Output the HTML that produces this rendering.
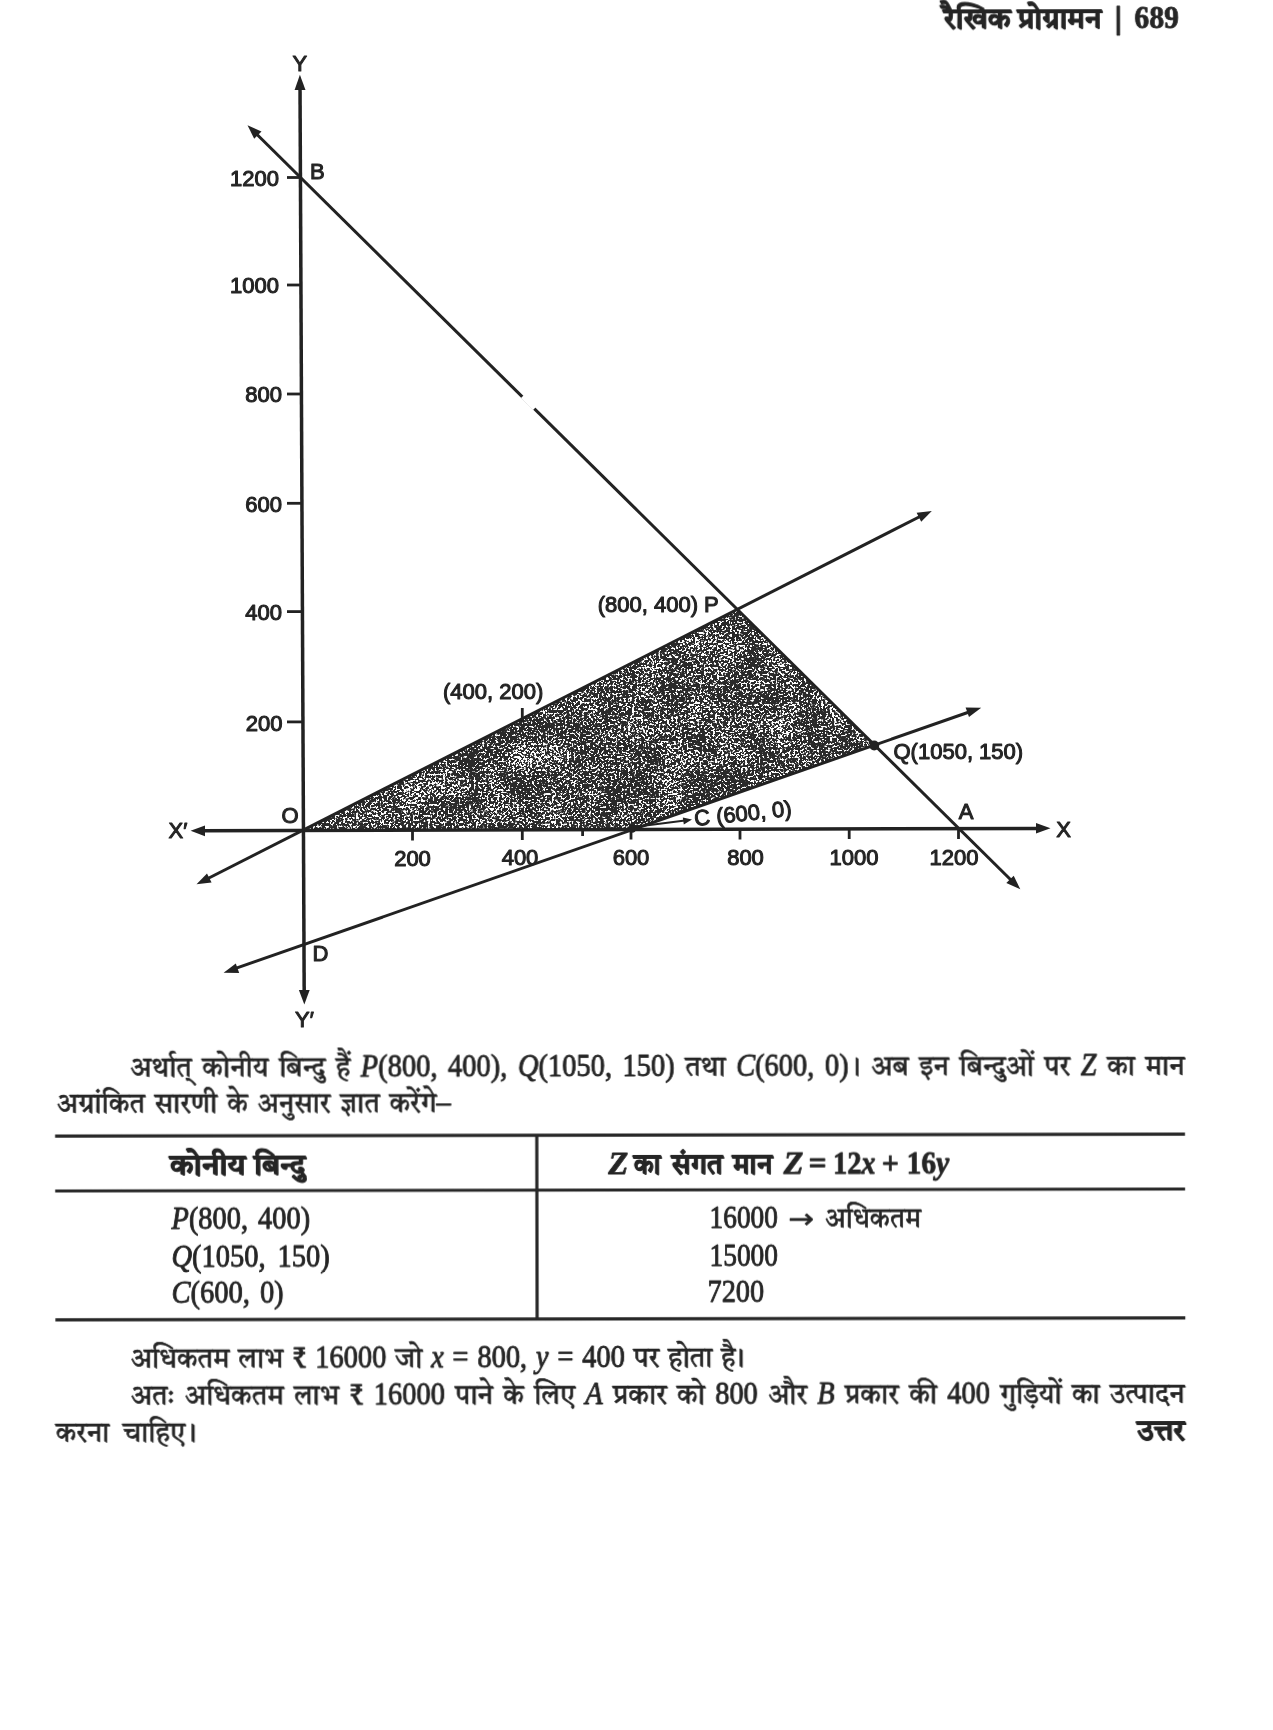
<!DOCTYPE html>
<html lang="hi">
<head>
<meta charset="utf-8">
<title>रैखिक प्रोग्रामन 689</title>
<style>
html,body{margin:0;padding:0;background:#fff;}
body{width:1273px;height:1730px;position:relative;overflow:hidden;color:#1e1e1e;
  font-family:"Liberation Serif","Tiro Devanagari Hindi","Noto Serif Devanagari","Lohit Devanagari","FreeSerif",serif;}
#graph,#txt,#rules{will-change:transform;opacity:0.999;}
#graph{position:absolute;left:0;top:0;width:1273px;height:1730px;}
#graph text{font-family:"Liberation Sans","DejaVu Sans",sans-serif;font-size:22px;fill:#242424;stroke:#242424;stroke-width:1.05px;stroke-linejoin:round;}
#txt{position:absolute;left:0;top:0;width:1273px;height:1730px;transform:rotate(-0.1deg);transform-origin:620px 1250px;}
#txt text{font-family:"Liberation Serif","Tiro Devanagari Hindi","Noto Serif Devanagari","Lohit Devanagari","FreeSerif",serif;fill:#242424;stroke:#242424;stroke-width:0.7px;stroke-linejoin:round;}
#txt text.L{stroke-width:0.9px;}
#txt text.DB{stroke-width:0.9px;}
#txt text.LB{stroke-width:0.8px;}
#txt text.A{stroke-width:0.5px;font-family:"DejaVu Sans","Liberation Sans",sans-serif;}
#rules{position:absolute;left:0;top:0;width:1273px;height:1730px;transform:rotate(-0.1deg);transform-origin:620px 1250px;}
</style>
</head>
<body>

<!-- ================= GRAPH ================= -->
<svg id="graph" viewBox="0 0 1273 1730">
  <defs>
    <filter id="stip" x="0" y="0" width="100%" height="100%" filterUnits="objectBoundingBox" color-interpolation-filters="sRGB">
      <feTurbulence type="fractalNoise" baseFrequency="0.46" numOctaves="2" seed="11"/>
      <feColorMatrix type="matrix" values="1 0 0 0 0  0 1 0 0 0  0 0 1 0 0  0 0 0 0 1" result="hi"/>
      <feTurbulence type="fractalNoise" baseFrequency="0.035" numOctaves="2" seed="4"/>
      <feColorMatrix type="matrix" values="1 0 0 0 0  0 1 0 0 0  0 0 1 0 0  0 0 0 0 1" result="lo"/>
      <feComposite in="hi" in2="lo" operator="arithmetic" k1="0" k2="1" k3="0.24" k4="-0.12" result="mix"/>
      <feColorMatrix in="mix" type="matrix" values="0 0 0 0 1  0 0 0 0 1  0 0 0 0 1  14 0 0 0 -7.58" result="spk"/>
      <feMerge result="m"><feMergeNode in="SourceGraphic"/><feMergeNode in="spk"/></feMerge>
      <feComposite in="m" in2="SourceGraphic" operator="in"/>
    </filter>
  </defs>

  <!-- shaded feasible region O-P-Q-C -->
  <polygon id="region" points="303,830 738,610 874,745.5 632,829" fill="#2a2a2a" filter="url(#stip)"/>

  <g stroke="#222" stroke-linecap="butt" fill="none">
    <!-- axes -->
    <line x1="300" y1="84" x2="304.2" y2="994" stroke-width="3.5"/>
    <line x1="200" y1="830.8" x2="1040" y2="828.4" stroke-width="3.5"/>
    <!-- line AB : x + y = 1200 -->
    <line x1="254" y1="131.5" x2="1013.5" y2="882.5" stroke-width="3"/>
    <!-- line x = 2y -->
    <line x1="204" y1="880.5" x2="922" y2="515.5" stroke-width="3"/>
    <!-- line x - 3y = 600 -->
    <line x1="232" y1="969.7" x2="972" y2="711" stroke-width="3"/>
    <!-- short pointer to C -->
    <line x1="634" y1="827" x2="685" y2="820.5" stroke-width="2"/>
    <!-- ticks y -->
    <g stroke-width="2.8">
      <line x1="287" y1="177.5" x2="301" y2="177.5"/>
      <line x1="287" y1="285" x2="301" y2="285"/>
      <line x1="287" y1="394" x2="302" y2="394"/>
      <line x1="287" y1="503.3" x2="302" y2="503.3"/>
      <line x1="287" y1="611.6" x2="303" y2="611.6"/>
      <line x1="287" y1="721.9" x2="303" y2="721.9"/>
      <!-- ticks x -->
      <line x1="412.5" y1="830" x2="412.5" y2="840.5"/>
      <line x1="522.3" y1="829.5" x2="522.3" y2="840"/>
      <line x1="582.6" y1="829.5" x2="582.6" y2="836"/>
      <line x1="631" y1="829" x2="631" y2="839.5"/>
      <line x1="740" y1="829" x2="740" y2="839.5"/>
      <line x1="849.2" y1="829" x2="849.2" y2="839"/>
      <line x1="958.5" y1="828.5" x2="958.5" y2="839"/>
      <!-- tick at (400,200) -->
      <line x1="522.3" y1="708" x2="522.3" y2="722"/>
    </g>
  </g>
  <!-- gap (scan artefact) in line AB -->
  <polygon points="521,398 528,391 540,403 533,410" fill="#fff"/>

  <!-- arrow heads -->
  <g fill="#222" stroke="none">
    <polygon points="299.9,74.8 305.5,90 294.6,90"/>
    <polygon points="304.3,1004.5 298.9,990 309.7,990"/>
    <polygon points="190.6,830.8 205,825.6 205,836.2"/>
    <polygon points="1050.5,828.3 1036,833.6 1036,823.1"/>
    <!-- AB -->
    <polygon points="247.5,125.2 261.5,131.5 254.2,138.8"/>
    <polygon points="1020.3,889.2 1006.3,883 1013.7,875.7"/>
    <!-- x=2y -->
    <polygon points="931.8,510.9 921.2,521.8 916.6,512.7"/>
    <polygon points="196.5,884.3 207,873.4 211.6,882.5"/>
    <!-- x-3y=600 -->
    <polygon points="981.2,707.8 969,717 965.6,707.4"/>
    <polygon points="223.6,972.7 235.8,963.5 239.2,973.1"/>
    <!-- pointer -->
    <polygon points="692,819.6 683.8,824.6 682.8,817.4"/>
    <circle cx="874.2" cy="745.5" r="5"/>
    <circle cx="632" cy="828.8" r="4"/>
  </g>

  <!-- labels -->
  <g>
    <text x="299.9" y="70.5" text-anchor="middle">Y</text>
    <text x="304.5" y="1026.5" text-anchor="middle">Y′</text>
    <text x="178" y="838" text-anchor="middle">X′</text>
    <text x="1063.7" y="836.5" text-anchor="middle">X</text>
    <text x="290" y="823" text-anchor="middle">O</text>
    <text x="317.3" y="178.5" text-anchor="middle">B</text>
    <text x="320.5" y="961" text-anchor="middle">D</text>
    <text x="966" y="819" text-anchor="middle">A</text>
    <!-- y ticks -->
    <text x="279" y="185.5" text-anchor="end">1200</text>
    <text x="279" y="293" text-anchor="end">1000</text>
    <text x="282" y="402" text-anchor="end">800</text>
    <text x="282" y="512" text-anchor="end">600</text>
    <text x="282" y="619.5" text-anchor="end">400</text>
    <text x="282.5" y="730.5" text-anchor="end">200</text>
    <!-- x ticks -->
    <text x="412.5" y="866" text-anchor="middle">200</text>
    <text x="520" y="865" text-anchor="middle">400</text>
    <text x="631" y="865" text-anchor="middle">600</text>
    <text x="745.5" y="865" text-anchor="middle">800</text>
    <text x="854" y="865" text-anchor="middle">1000</text>
    <text x="954" y="865" text-anchor="middle">1200</text>
    <!-- point labels -->
    <text x="597.7" y="612">(800, 400) P</text>
    <text x="443" y="699">(400, 200)</text>
    <text x="893.5" y="758.5">Q(1050, 150)</text>
    <text x="695" y="826" transform="rotate(-6 695 826)">C (600, 0)</text>
  </g>
</svg>

<!-- ================= TABLE RULES ================= -->
<svg id="rules" viewBox="0 0 1273 1730">
  <g stroke="#262626" fill="none">
    <line x1="55.3" y1="1135.1" x2="1185.2" y2="1135.1" stroke-width="3.2"/>
    <line x1="55.3" y1="1189.9" x2="1185.2" y2="1189.9" stroke-width="3"/>
    <line x1="55.3" y1="1318.9" x2="1185.2" y2="1318.9" stroke-width="3.2"/>
    <line x1="537" y1="1135" x2="537" y2="1319" stroke-width="3.2"/>
  </g>
</svg>

<!-- ================= TEXT ================= -->
<!--TEXT-->
<svg id="txt" viewBox="0 0 1273 1730">
<g id="hdr">
<text class="DB" x="946.0" y="28.8" font-size="29.4" font-weight="bold" textLength="66.8" lengthAdjust="spacingAndGlyphs">रैखिक</text>
<text class="DB" x="1020.1" y="28.8" font-size="29.4" font-weight="bold" textLength="83.4" lengthAdjust="spacingAndGlyphs">प्रोग्रामन</text>
<text class="LB" x="1116.3" y="28.8" font-size="32.0" font-weight="bold" textLength="8.4" lengthAdjust="spacingAndGlyphs">|</text>
<text class="LB" x="1136.6" y="28.8" font-size="32.0" font-weight="bold" textLength="44.4" lengthAdjust="spacingAndGlyphs">689</text>
</g>
<g id="p1a">
<text class="D" x="130.5" y="1075.8" font-size="29.4" textLength="61.6" lengthAdjust="spacingAndGlyphs">अर्थात्</text>
<text class="D" x="202.6" y="1075.8" font-size="29.4" textLength="66.2" lengthAdjust="spacingAndGlyphs">कोनीय</text>
<text class="D" x="279.4" y="1075.8" font-size="29.4" textLength="46.3" lengthAdjust="spacingAndGlyphs">बिन्दु</text>
<text class="D" x="336.2" y="1075.8" font-size="29.4" textLength="14.4" lengthAdjust="spacingAndGlyphs">हैं</text>
<text class="L" x="361.1" y="1075.8" font-size="32.0" textLength="76.7" lengthAdjust="spacingAndGlyphs"><tspan font-style="italic">P</tspan>(800,</text>
<text class="L" x="448.3" y="1075.8" font-size="32.0" textLength="59.3" lengthAdjust="spacingAndGlyphs">400),</text>
<text class="L" x="518.2" y="1075.8" font-size="32.0" textLength="94.1" lengthAdjust="spacingAndGlyphs"><tspan font-style="italic">Q</tspan>(1050,</text>
<text class="L" x="622.8" y="1075.8" font-size="32.0" textLength="52.2" lengthAdjust="spacingAndGlyphs">150)</text>
<text class="D" x="685.6" y="1075.8" font-size="29.4" textLength="40.4" lengthAdjust="spacingAndGlyphs">तथा</text>
<text class="L" x="736.4" y="1075.8" font-size="32.0" textLength="78.3" lengthAdjust="spacingAndGlyphs"><tspan font-style="italic">C</tspan>(600,</text>
<text class="L" x="825.3" y="1075.8" font-size="32.0" textLength="23.7" lengthAdjust="spacingAndGlyphs">0)</text>
<text class="D" x="854.0" y="1075.8" font-size="29.4" textLength="6.9" lengthAdjust="spacingAndGlyphs">।</text>
<text class="D" x="871.5" y="1075.8" font-size="29.4" textLength="37.6" lengthAdjust="spacingAndGlyphs">अब</text>
<text class="D" x="919.6" y="1075.8" font-size="29.4" textLength="29.7" lengthAdjust="spacingAndGlyphs">इन</text>
<text class="D" x="959.8" y="1075.8" font-size="29.4" textLength="74.5" lengthAdjust="spacingAndGlyphs">बिन्दुओं</text>
<text class="D" x="1044.8" y="1075.8" font-size="29.4" textLength="25.7" lengthAdjust="spacingAndGlyphs">पर</text>
<text class="L" x="1081.1" y="1075.8" font-size="32.0" textLength="15.8" lengthAdjust="spacingAndGlyphs"><tspan font-style="italic">Z</tspan></text>
<text class="D" x="1107.4" y="1075.8" font-size="29.4" textLength="27.9" lengthAdjust="spacingAndGlyphs">का</text>
<text class="D" x="1145.8" y="1075.8" font-size="29.4" textLength="39.2" lengthAdjust="spacingAndGlyphs">मान</text>
</g>
<g id="p1b">
<text class="D" x="57.0" y="1112.4" font-size="29.4" textLength="88.2" lengthAdjust="spacingAndGlyphs">अग्रांकित</text>
<text class="D" x="154.9" y="1112.4" font-size="29.4" textLength="62.7" lengthAdjust="spacingAndGlyphs">सारणी</text>
<text class="D" x="227.4" y="1112.4" font-size="29.4" textLength="20.6" lengthAdjust="spacingAndGlyphs">के</text>
<text class="D" x="257.8" y="1112.4" font-size="29.4" textLength="72.9" lengthAdjust="spacingAndGlyphs">अनुसार</text>
<text class="D" x="340.5" y="1112.4" font-size="29.4" textLength="39.4" lengthAdjust="spacingAndGlyphs">ज्ञात</text>
<text class="D" x="389.7" y="1112.4" font-size="29.4" textLength="47.0" lengthAdjust="spacingAndGlyphs">करेंगे</text>
<text class="L" x="436.8" y="1112.4" font-size="32.0" textLength="14.2" lengthAdjust="spacingAndGlyphs">–</text>
</g>
<g id="th1">
<text class="DB" x="170.3" y="1174.3" font-size="29.4" font-weight="bold" textLength="75.3" lengthAdjust="spacingAndGlyphs">कोनीय</text>
<text class="DB" x="254.3" y="1174.3" font-size="29.4" font-weight="bold" textLength="51.2" lengthAdjust="spacingAndGlyphs">बिन्दु</text>
</g>
<g id="th2">
<text class="LB" x="608.5" y="1174.3" font-size="32.0" font-weight="bold" textLength="19.8" lengthAdjust="spacingAndGlyphs"><tspan font-style="italic">Z</tspan></text>
<text class="DB" x="633.9" y="1174.3" font-size="29.4" font-weight="bold" textLength="26.9" lengthAdjust="spacingAndGlyphs">का</text>
<text class="DB" x="672.1" y="1174.3" font-size="29.4" font-weight="bold" textLength="50.9" lengthAdjust="spacingAndGlyphs">संगत</text>
<text class="DB" x="732.9" y="1174.3" font-size="29.4" font-weight="bold" textLength="39.6" lengthAdjust="spacingAndGlyphs">मान</text>
<text class="LB" x="783.8" y="1174.3" font-size="32.0" font-weight="bold" textLength="19.8" lengthAdjust="spacingAndGlyphs"><tspan font-style="italic">Z</tspan></text>
<text class="LB" x="808.8" y="1174.3" font-size="32.0" font-weight="bold" textLength="18.0" lengthAdjust="spacingAndGlyphs">=</text>
<text class="LB" x="833.3" y="1174.3" font-size="32.0" font-weight="bold" textLength="42.4" lengthAdjust="spacingAndGlyphs">12<tspan font-style="italic">x</tspan></text>
<text class="LB" x="882.0" y="1174.3" font-size="32.0" font-weight="bold" textLength="17.0" lengthAdjust="spacingAndGlyphs">+</text>
<text class="LB" x="906.8" y="1174.3" font-size="32.0" font-weight="bold" textLength="42.5" lengthAdjust="spacingAndGlyphs">16<tspan font-style="italic">y</tspan></text>
</g>
<g id="r1a">
<text class="L" x="171.5" y="1228.3" font-size="32.0" textLength="76.7" lengthAdjust="spacingAndGlyphs"><tspan font-style="italic">P</tspan>(800,</text>
<text class="L" x="258.1" y="1228.3" font-size="32.0" textLength="52.2" lengthAdjust="spacingAndGlyphs">400)</text>
</g>
<g id="r2a">
<text class="L" x="171.5" y="1266.0" font-size="32.0" textLength="94.1" lengthAdjust="spacingAndGlyphs"><tspan font-style="italic">Q</tspan>(1050,</text>
<text class="L" x="277.6" y="1266.0" font-size="32.0" textLength="52.2" lengthAdjust="spacingAndGlyphs">150)</text>
</g>
<g id="r3a">
<text class="L" x="171.5" y="1302.0" font-size="32.0" textLength="78.3" lengthAdjust="spacingAndGlyphs"><tspan font-style="italic">C</tspan>(600,</text>
<text class="L" x="259.9" y="1302.0" font-size="32.0" textLength="23.7" lengthAdjust="spacingAndGlyphs">0)</text>
</g>
<g id="r1b">
<text class="L" x="709.5" y="1228.3" font-size="32.0" textLength="68.5" lengthAdjust="spacingAndGlyphs">16000</text>
<text class="A" x="788.5" y="1228.3" font-size="27" font-family="DejaVu Sans,Liberation Sans,sans-serif" textLength="26.0" lengthAdjust="spacingAndGlyphs">→</text>
<text class="D" x="825.0" y="1228.3" font-size="29.4" textLength="96.0" lengthAdjust="spacingAndGlyphs">अधिकतम</text>
</g>
<g id="r2b">
<text class="L" x="709.5" y="1266.0" font-size="32.0" textLength="68.5" lengthAdjust="spacingAndGlyphs">15000</text>
</g>
<g id="r3b">
<text class="L" x="707.5" y="1302.0" font-size="32.0" textLength="56.5" lengthAdjust="spacingAndGlyphs">7200</text>
</g>
<g id="p2">
<text class="D" x="130.5" y="1366.8" font-size="29.4" textLength="98.9" lengthAdjust="spacingAndGlyphs">अधिकतम</text>
<text class="D" x="238.1" y="1366.8" font-size="29.4" textLength="45.1" lengthAdjust="spacingAndGlyphs">लाभ</text>
<text class="L" x="292.0" y="1366.8" font-size="32.0" textLength="14.3" lengthAdjust="spacingAndGlyphs">₹</text>
<text class="L" x="315.1" y="1366.8" font-size="32.0" textLength="71.2" lengthAdjust="spacingAndGlyphs">16000</text>
<text class="D" x="395.0" y="1366.8" font-size="29.4" textLength="27.1" lengthAdjust="spacingAndGlyphs">जो</text>
<text class="L" x="430.9" y="1366.8" font-size="32.0" textLength="12.6" lengthAdjust="spacingAndGlyphs"><tspan font-style="italic">x</tspan></text>
<text class="L" x="452.3" y="1366.8" font-size="32.0" textLength="16.1" lengthAdjust="spacingAndGlyphs">=</text>
<text class="L" x="477.2" y="1366.8" font-size="32.0" textLength="49.8" lengthAdjust="spacingAndGlyphs">800,</text>
<text class="L" x="535.8" y="1366.8" font-size="32.0" textLength="12.6" lengthAdjust="spacingAndGlyphs"><tspan font-style="italic">y</tspan></text>
<text class="L" x="557.2" y="1366.8" font-size="32.0" textLength="16.1" lengthAdjust="spacingAndGlyphs">=</text>
<text class="L" x="582.0" y="1366.8" font-size="32.0" textLength="42.7" lengthAdjust="spacingAndGlyphs">400</text>
<text class="D" x="633.5" y="1366.8" font-size="29.4" textLength="25.7" lengthAdjust="spacingAndGlyphs">पर</text>
<text class="D" x="668.0" y="1366.8" font-size="29.4" textLength="44.3" lengthAdjust="spacingAndGlyphs">होता</text>
<text class="D" x="721.1" y="1366.8" font-size="29.4" textLength="14.4" lengthAdjust="spacingAndGlyphs">है</text>
<text class="D" x="737.5" y="1366.8" font-size="29.4" textLength="6.9" lengthAdjust="spacingAndGlyphs">।</text>
</g>
<g id="p3a">
<text class="D" x="130.5" y="1403.6" font-size="29.4" textLength="43.9" lengthAdjust="spacingAndGlyphs">अतः</text>
<text class="D" x="184.6" y="1403.6" font-size="29.4" textLength="98.9" lengthAdjust="spacingAndGlyphs">अधिकतम</text>
<text class="D" x="293.7" y="1403.6" font-size="29.4" textLength="45.1" lengthAdjust="spacingAndGlyphs">लाभ</text>
<text class="L" x="349.1" y="1403.6" font-size="32.0" textLength="14.3" lengthAdjust="spacingAndGlyphs">₹</text>
<text class="L" x="373.6" y="1403.6" font-size="32.0" textLength="71.2" lengthAdjust="spacingAndGlyphs">16000</text>
<text class="D" x="455.1" y="1403.6" font-size="29.4" textLength="37.7" lengthAdjust="spacingAndGlyphs">पाने</text>
<text class="D" x="503.0" y="1403.6" font-size="29.4" textLength="20.6" lengthAdjust="spacingAndGlyphs">के</text>
<text class="D" x="533.9" y="1403.6" font-size="29.4" textLength="40.9" lengthAdjust="spacingAndGlyphs">लिए</text>
<text class="L" x="585.1" y="1403.6" font-size="32.0" textLength="17.4" lengthAdjust="spacingAndGlyphs"><tspan font-style="italic">A</tspan></text>
<text class="D" x="612.7" y="1403.6" font-size="29.4" textLength="53.9" lengthAdjust="spacingAndGlyphs">प्रकार</text>
<text class="D" x="676.8" y="1403.6" font-size="29.4" textLength="27.9" lengthAdjust="spacingAndGlyphs">को</text>
<text class="L" x="714.9" y="1403.6" font-size="32.0" textLength="42.7" lengthAdjust="spacingAndGlyphs">800</text>
<text class="D" x="767.9" y="1403.6" font-size="29.4" textLength="38.9" lengthAdjust="spacingAndGlyphs">और</text>
<text class="L" x="817.1" y="1403.6" font-size="32.0" textLength="17.4" lengthAdjust="spacingAndGlyphs"><tspan font-style="italic">B</tspan></text>
<text class="D" x="844.7" y="1403.6" font-size="29.4" textLength="53.9" lengthAdjust="spacingAndGlyphs">प्रकार</text>
<text class="D" x="908.9" y="1403.6" font-size="29.4" textLength="27.9" lengthAdjust="spacingAndGlyphs">की</text>
<text class="L" x="947.0" y="1403.6" font-size="32.0" textLength="42.7" lengthAdjust="spacingAndGlyphs">400</text>
<text class="D" x="999.9" y="1403.6" font-size="29.4" textLength="61.6" lengthAdjust="spacingAndGlyphs">गुड़ियों</text>
<text class="D" x="1071.7" y="1403.6" font-size="29.4" textLength="27.9" lengthAdjust="spacingAndGlyphs">का</text>
<text class="D" x="1109.8" y="1403.6" font-size="29.4" textLength="74.7" lengthAdjust="spacingAndGlyphs">उत्पादन</text>
</g>
<g id="p3b">
<text class="D" x="55.5" y="1440.7" font-size="29.4" textLength="53.4" lengthAdjust="spacingAndGlyphs">करना</text>
<text class="D" x="122.5" y="1440.7" font-size="29.4" textLength="62.5" lengthAdjust="spacingAndGlyphs">चाहिए</text>
<text class="D" x="189.2" y="1440.7" font-size="29.4" textLength="7.1" lengthAdjust="spacingAndGlyphs">।</text>
</g>
<g id="ans">
<text class="DB" x="1137.0" y="1440.7" font-size="29.4" font-weight="bold" textLength="47.5" lengthAdjust="spacingAndGlyphs">उत्तर</text>
</g>
</svg>
<!--/TEXT-->

</body>
</html>
